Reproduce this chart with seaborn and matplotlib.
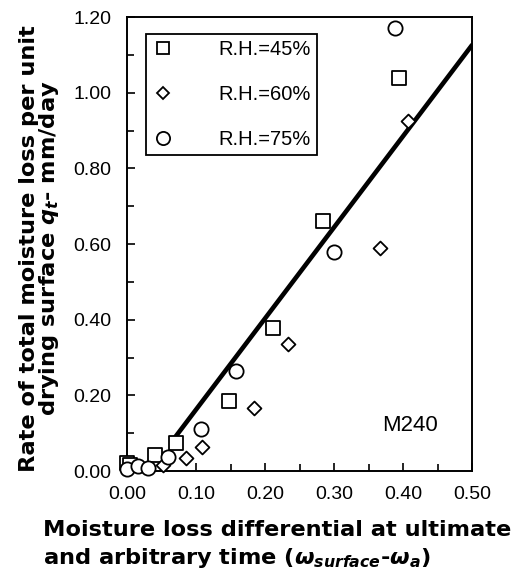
import matplotlib
matplotlib.use("Agg")
import matplotlib.pyplot as plt
import seaborn as sns
from matplotlib.ticker import MultipleLocator, FormatStrFormatter
from matplotlib.lines import Line2D

# ---- data ----
rh45_x = [0.000, 0.005, 0.040, 0.0705, 0.148, 0.211, 0.284, 0.394]
rh45_y = [0.020, 0.016, 0.042, 0.075, 0.185, 0.377, 0.661, 1.040]

rh60_x = [0.052, 0.086, 0.108, 0.184, 0.234, 0.366, 0.407]
rh60_y = [0.015, 0.034, 0.064, 0.167, 0.336, 0.590, 0.926]

rh75_x = [0.000, 0.016, 0.031, 0.060, 0.107, 0.158, 0.300, 0.389]
rh75_y = [0.005, 0.012, 0.007, 0.038, 0.110, 0.265, 0.580, 1.172]

fit_x = [0.070, 0.500]
fit_y = [0.090, 1.126]

series_labels = ["R.H.=45%", "R.H.=60%", "R.H.=75%"]
x_ticks = [0.0, 0.1, 0.2, 0.3, 0.4, 0.5]
y_ticks = [0.0, 0.2, 0.4, 0.6, 0.8, 1.0, 1.2]

# ---- style ----
sns.set_style("ticks")
plt.rcParams["font.family"] = ["Liberation Sans", "DejaVu Sans"]
plt.rcParams["mathtext.fontset"] = "custom"
plt.rcParams["mathtext.it"] = "DejaVu Sans:italic:bold"
plt.rcParams["mathtext.rm"] = "DejaVu Sans:bold"
plt.rcParams["mathtext.bf"] = "DejaVu Sans:bold"

fig = plt.figure(figsize=(5.15, 5.82), dpi=100)
ax = fig.add_axes([0.2466, 0.1907, 0.670, 0.780])

sns.lineplot(x=fit_x, y=fit_y, color="black", linewidth=3.3, ax=ax,
             zorder=2, legend=False)

markers = ["s", "D", "o"]
sizes = [90, 50, 105]
xs = [rh45_x, rh60_x, rh75_x]
ys = [rh45_y, rh60_y, rh75_y]
for xv, yv, m, s in zip(xs, ys, markers, sizes):
    sns.scatterplot(x=xv, y=yv, marker=m, s=s, facecolor="white",
                    edgecolor="black", linewidth=1.3, ax=ax, zorder=3,
                    clip_on=False, legend=False)

ax.set_xlim(0, 0.5)
ax.set_ylim(0, 1.2)
ax.set_xticks(x_ticks)
ax.set_yticks(y_ticks)
ax.xaxis.set_minor_locator(MultipleLocator(0.05))
ax.yaxis.set_minor_locator(MultipleLocator(0.1))
ax.xaxis.set_major_formatter(FormatStrFormatter("%.2f"))
ax.yaxis.set_major_formatter(FormatStrFormatter("%.2f"))
ax.tick_params(which="both", direction="in", top=False, right=False,
               color="black", width=1.2)
ax.tick_params(which="major", length=6, labelsize=14, pad=11,
               labelcolor="black")
ax.tick_params(which="minor", length=5)
for sp in ax.spines.values():
    sp.set_visible(True)
    sp.set_linewidth(1.4)
    sp.set_color("black")

# legend
handles = [Line2D([], [], linestyle="none", marker=m, markersize=ms,
                  markerfacecolor="white", markeredgecolor="black",
                  markeredgewidth=1.3)
           for m, ms in zip(markers, [9.0, 6.0, 9.5])]
leg = ax.legend(handles, series_labels, loc="upper left",
                bbox_to_anchor=(0.055, 0.963), borderaxespad=0,
                fontsize=14.5, frameon=True, fancybox=False,
                handlelength=1.1, handletextpad=2.2, labelspacing=1.3,
                borderpad=0.3, labelcolor="black")
leg.get_frame().set_edgecolor("black")
leg.get_frame().set_linewidth(1.3)
leg.get_frame().set_alpha(1)

ax.text(0.41, 0.12, "M240", fontsize=16, ha="center", va="center",
        color="black")

ax.set_ylabel("Rate of total moisture loss per unit\n"
              "drying surface $q_t$- mm/day",
              fontsize=16.2, fontweight="bold", family="DejaVu Sans",
              multialignment="center", linespacing=0.88, color="black")
ax.yaxis.set_label_coords(-0.192, 0.49)

ax.set_xlabel("Moisture loss differential at ultimate\n"
              r"and arbitrary time ($\omega_{surface}$-$\omega_a$)",
              fontsize=16.2, fontweight="bold", family="DejaVu Sans",
              ha="left", multialignment="left", linespacing=1.35,
              color="black")
ax.xaxis.set_label_coords(-0.243, -0.108)

fig.savefig("out.png", dpi=100)
